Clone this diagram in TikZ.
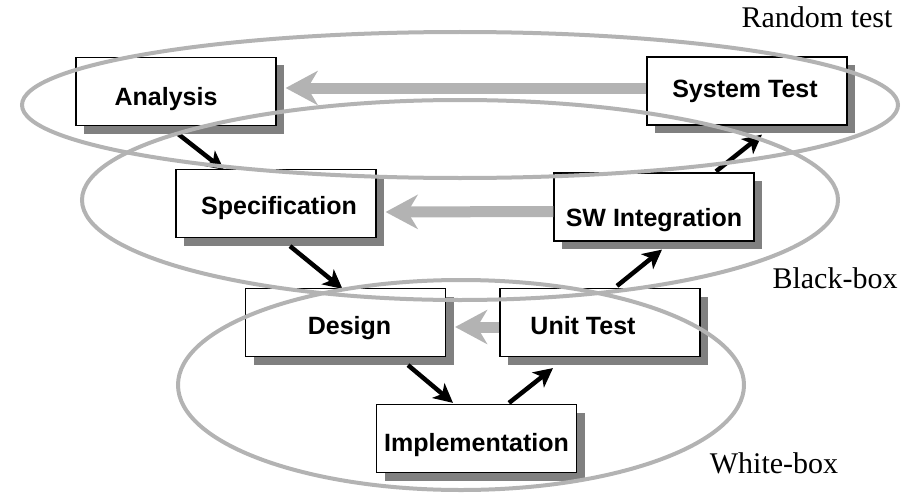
\documentclass[tikz,border=0pt]{standalone}
\usepackage{fontspec}
\setmainfont{Liberation Serif}
\newfontfamily\boxfont{Liberation Sans}
\usetikzlibrary{arrows.meta,calc}
\definecolor{ringgray}{HTML}{B3B3B3}
\definecolor{shadowgray}{HTML}{808080}
\tikzset{
  phase/.style={draw=black, line width=1.2pt, fill=white, minimum width=200pt,
    minimum height=68pt, inner sep=0pt},
  phasetext/.style={inner sep=0pt, font=\boxfont\bfseries\fontsize{25}{28}\selectfont},
  phaseshadow/.style={fill=shadowgray},
  ring/.style={draw=ringgray, line width=4pt},
  flow/.style={line width=4.5pt, -{Stealth[length=19pt,width=19pt,inset=5pt]}},
  feedback/.style={draw=ringgray, line width=11pt,
    -{Stealth[length=32pt,width=34pt,inset=10pt,fill=ringgray]}},
  levellabel/.style={font=\fontsize{30}{32}\selectfont, anchor=base}
}
\begin{document}
\begin{tikzpicture}[x=1pt, y=-1pt]
\useasboundingbox (0,0) rectangle (923,495);

% phase boxes of the V model: name / centre / text offset / text
\foreach \n/\cx/\cy/\dx/\dy/\t in {ana/176/91.5/-10/7.5/Analysis,
    st/747/91/-2/0/System Test,
    spec/276/203.5/3/5/Specification,
    sw/654/207/0/13/SW Integration,
    des/345.5/322.5/4/6/Design,
    ut/600/322.5/-17/3/Unit Test,
    imp/476.5/438.5/0/7/Implementation}{
  \fill[phaseshadow] (\cx-100+8,\cy-34+8) rectangle (\cx+100+8,\cy+34+8);
  \node[phase] (\n) at (\cx,\cy) {};
  \node[phasetext] (\n-t) at ($(\n.center)+(\dx,\dy)$) {\t};
}

% downward and upward flow
\draw[flow] ($(ana.south)+(1,7)$) -- ($(spec.north)+(-52,1)$);
\draw[flow] ($(spec.south)+(14,8)$) -- ($(des.north)+(-3,1)$);
\draw[flow] ($(des.south)+(62.5,8)$) -- ($(imp.north)+(-23.5,-1)$);
\draw[flow] ($(imp.north)+(32.5,-1)$) -- ($(ut.south)+(-47,11)$);
\draw[flow] ($(ut.north)+(17,-2)$) -- ($(sw.south)+(8,8)$);
\draw[flow] ($(sw.north)+(62,-1)$) -- ($(st.south)+(15,9)$);

% test levels
\draw[ring] (460,105) ellipse [x radius=438, y radius=73];
\draw[ring] (460,200) ellipse [x radius=378, y radius=100];
\draw[ring] (461,385) ellipse [x radius=283, y radius=105];

% verification feedback
\draw[feedback] ($(st.west)+(0,-3)$) -- ($(ana.east)+(9,-3.5)$);
\draw[feedback] ($(sw.west)+(0,4.5)$) -- ($(spec.east)+(9,8.5)$);
\draw[feedback] ($(ut.west)+(0,4.5)$) -- ($(des.east)+(9,4.5)$);

\node[levellabel] (lrand) at (817,28) {Random test};
\node[levellabel] (lblack) at (835,288) {Black-box};
\node[levellabel] (lwhite) at (774,473) {White-box};
\end{tikzpicture}
\end{document}
